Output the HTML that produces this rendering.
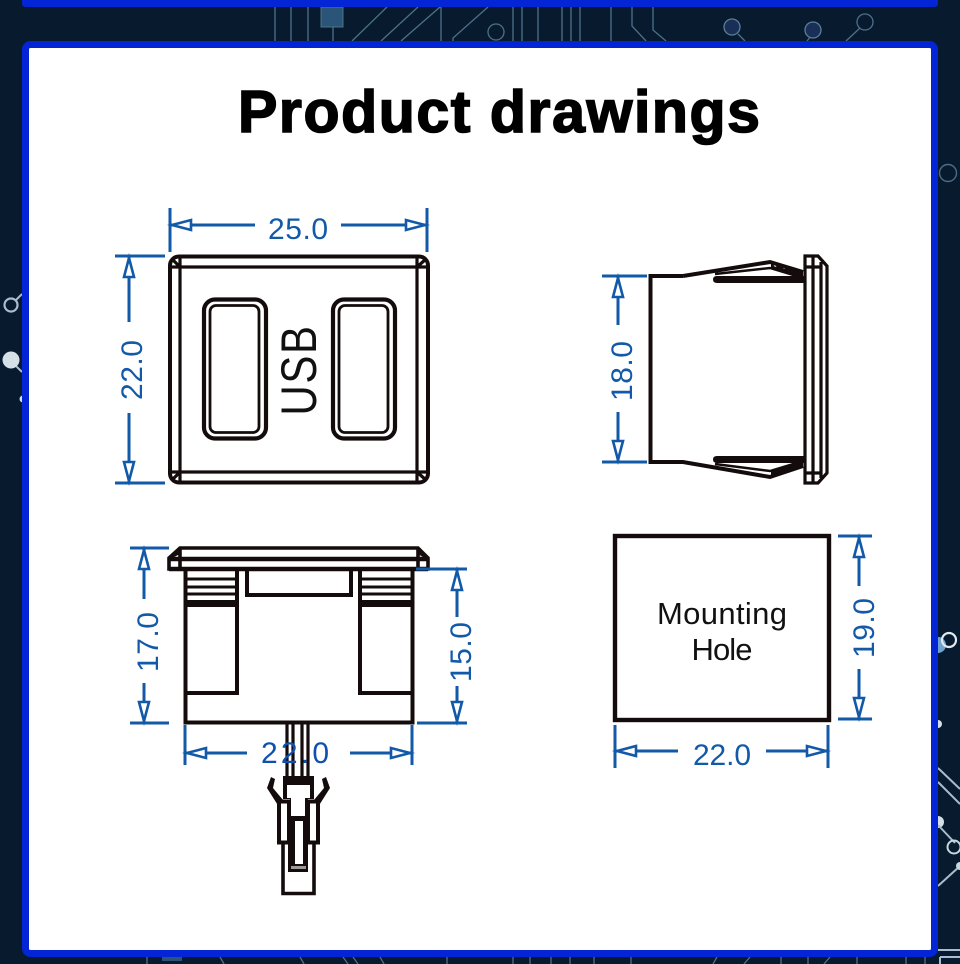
<!DOCTYPE html>
<html><head><meta charset="utf-8"><style>
html,body{margin:0;padding:0;background:#071a2e}
svg{display:block}
.d{font-family:"Liberation Sans",sans-serif;font-size:30px;fill:#1259a8;text-anchor:middle}
.k{fill:none;stroke:#140c0c;stroke-width:3.5}
.b{fill:none;stroke:#1259a8;stroke-width:3}
.a{fill:#fff;stroke:#1259a8;stroke-width:2.6}
.t{fill:none;stroke:#4d7189;stroke-width:1.3}
.l{fill:none;stroke:#a9bdcc;stroke-width:2}
</style></head><body>
<svg width="960" height="964" viewBox="0 0 960 964" xmlns="http://www.w3.org/2000/svg">
<rect width="960" height="964" fill="#071a2e"/>
<!-- background traces top -->
<path class="t" d="M275 7V41M291 7V41M308 7V41M333 27V41M352 41L387 7M381 41L418 7M401 41L440 7M441 7V41M453 41V38L488 7M513 7V41M522 7V41M538 7V41M562 7V41M571 7V41M580 7V41M611 7V41M632 7V26L646 41M653 7V30L666 41M738 34L745 41M807 41L811 36M846 41L860 28"/>
<rect x="321" y="7" width="22" height="20" fill="#2a5578" stroke="#4d7189"/>
<ellipse cx="496" cy="32" rx="8" ry="8" class="t"/>
<circle cx="732" cy="27" r="8" fill="#1a2f58" stroke="#5d7f96" stroke-width="1.3"/>
<circle cx="813" cy="30" r="8" fill="#1a2f58" stroke="#5d7f96" stroke-width="1.3"/>
<circle cx="865" cy="22" r="8" class="t"/>
<!-- left side -->
<circle cx="11" cy="305" r="6.5" fill="none" stroke="#a9bdcc" stroke-width="2.2"/>
<path class="l" d="M16 300L22 294M16 366L22 372"/>
<circle cx="11" cy="360" r="8.5" fill="#d5dfe8"/>
<circle cx="23" cy="399" r="3.5" fill="#d5dfe8"/>
<!-- right side -->
<circle cx="948" cy="173" r="8.5" fill="none" stroke="#4d6d85" stroke-width="1.4"/>
<circle cx="938" cy="645" r="8" fill="#6fa3cf"/>
<circle cx="949" cy="640" r="7" fill="none" stroke="#e2eaf0" stroke-width="2.2"/>
<circle cx="938" cy="724" r="4" fill="#d5dfe8"/>
<circle cx="938" cy="822" r="6" fill="#d5dfe8"/>
<path class="l" d="M938 768L960 789M938 782L960 804M938 825L955 843M938 886L960 866"/>
<circle cx="954" cy="847" r="6.5" fill="none" stroke="#c8d6e0" stroke-width="2"/>
<circle cx="960" cy="866" r="4" fill="#c8d6e0"/>
<path class="l" d="M938 950H960M940 957H960M940 964V957"/>
<!-- bottom traces -->
<path class="t" d="M147 957V964M220 957L224 964M300 957L304 964M343 957L348 964M353 957L358 964M380 957L384 964M447 957V964M513 957V964M530 957V964M551 957V964M570 957V964M594 957V964M631 957V964M713 964L717 957M744 964L750 957M781 957V964M808 957V964M824 964L830 957M857 957V964M906 957V964M925 957V964" stroke="#7f9db3"/>
<rect x="162" y="957" width="20" height="4" fill="#2a5578"/>
<!-- top band -->
<path d="M22 0H938V3Q938 7 934 7H26Q22 7 22 3Z" fill="#0325d6"/>
<!-- card -->
<rect x="25.5" y="44.5" width="909" height="909" rx="5" fill="#fff" stroke="#0325d6" stroke-width="7"/>

<text x="499" y="132" font-family="Liberation Sans,sans-serif" font-weight="700" font-size="59" text-anchor="middle" textLength="522" lengthAdjust="spacing" stroke="#000" stroke-width="1.6">Product drawings</text>

<!-- FRONT VIEW -->
<rect x="170" y="256.500" width="258" height="226" rx="9" class="k" style="stroke-width:4"/>
<path class="k" d="M170 267H427M170 472H427M180 257V482M417 257V482M172 259L180 267M426 259L417 267M172 480L180 472M426 480L417 472" style="stroke-width:3.2"/>
<rect x="204" y="299.500" width="62" height="139" rx="11" class="k" style="stroke-width:4.2"/>
<rect x="210" y="305.500" width="49" height="127" rx="6" class="k" style="stroke-width:2.8"/>
<rect x="333" y="299.500" width="62" height="139" rx="11" class="k" style="stroke-width:4.2"/>
<rect x="339" y="305.500" width="49" height="127" rx="6" class="k" style="stroke-width:2.8"/>
<text transform="translate(316,370) rotate(-90) scale(.84,1)" font-family="Liberation Sans,sans-serif" font-size="50" letter-spacing="2" fill="#111" text-anchor="middle">USB</text>

<path class="b" d="M170 208V252M427 208V252M170 225H255M341 225H427"/>
<path class="a" d="M172 225L191 220V230ZM425 225L406 220V230Z"/>
<text class="d" x="298" y="239" textLength="60" lengthAdjust="spacing">25.0</text>
<path class="b" d="M115 256H165M115 483H165M129 256V322M129 413V483"/>
<path class="a" d="M129 258L124 277H134ZM129 481L124 462H134Z"/>
<text class="d" transform="translate(142,370) rotate(-90)" textLength="60" lengthAdjust="spacing">22.0</text>

<!-- SIDE VIEW -->
<path class="k" d="M683 276H650.500V462H683L770 477L803 466M683 276L770 262L803 272" style="stroke-width:4"/>
<path class="k" d="M715 274L770 268L803 278M715 464L770 471L803 461" style="stroke-width:2.4"/>
<path d="M713 279.500Q713 276 717 276H804V283H717Q713 283 713 279.500ZM713 459.500Q713 456 717 456H804V463H717Q713 463 713 459.500Z" fill="#140c0c"/>
<path d="M771 262L775 267L780 264L784 269L790 266L794 270L803 271V277L771 268ZM771 477L803 467V461L771 471Z" fill="#140c0c"/>
<path class="k" d="M805 256H818L827 266V473L818 483H805ZM813 256V483M821 262V478M805 267H821M805 473H821" style="stroke-width:3.2"/>
<path class="b" d="M602 276H647M602 462H647M618 276V325M618 412V462"/>
<path class="a" d="M618 278L613 297H623ZM618 460L613 441H623Z"/>
<text class="d" transform="translate(632,371) rotate(-90)" textLength="60" lengthAdjust="spacing">18.0</text>

<!-- BOTTOM VIEW -->
<path class="k" d="M180 548H418L428 558V569H169V558ZM180 548V569M418 548V569M172 556L180 552M425 556L418 552" style="stroke-width:3.6"/>
<path class="k" d="M169 559H428" style="stroke-width:4.4"/>
<path class="k" d="M169 569H428" style="stroke-width:4.4"/>
<path class="k" d="M185.500 569V722.500H412.500V569M237 569V693H185M360 569V693H412M247 569V595H351V569" style="stroke-width:4"/>
<path class="k" d="M186 579H237M186 587H237M186 594H237M361 579H412M361 587H412M361 594H412" style="stroke-width:3"/>
<path d="M186 600H237V607H186ZM361 600H412V607H361Z" fill="#140c0c"/>
<!-- wires -->
<path class="k" d="M287 724V777M293 724V777M302 724V777M308 724V777" style="stroke-width:3.2"/>
<!-- connector -->
<path d="M283 776H314V799H308V817H290V799H283ZM287 785V798H291V816H305V798H310V785Z" fill="#140c0c" fill-rule="evenodd"/>
<path d="M271 777L275 779L273 788L283 800L279 807L267 788ZM326 777L322 779L324 788L314 800L318 807L330 788Z" fill="#140c0c"/>
<rect x="279" y="801.500" width="10" height="41" fill="#fff" stroke="#140c0c" stroke-width="4"/>
<rect x="308" y="801.500" width="10" height="41" fill="#fff" stroke="#140c0c" stroke-width="4"/>
<path d="M288 817H308V872H288ZM295 821V864H303V821Z" fill="#140c0c" fill-rule="evenodd"/>
<path class="k" d="M283 844V893.500H314V844" style="stroke-width:3.6"/>
<path d="M291 866H306V869H291Z" fill="#999"/>
<!-- dims -->
<path class="b" d="M130 548H169M130 723H169M144 548V599M144 683V723"/>
<path class="a" d="M144 550L139 569H149ZM144 721L139 702H149Z"/>
<text class="d" transform="translate(158,642) rotate(-90)" textLength="60" lengthAdjust="spacing">17.0</text>
<path class="b" d="M416 569H467M417 723H467M457 569V617M457 686V723"/>
<path class="a" d="M457 571L452 590H462ZM457 721L452 702H462Z"/>
<text class="d" transform="translate(471,652) rotate(-90)" textLength="60" lengthAdjust="spacing">15.0</text>
<path class="b" d="M185 725V765M412 725V765M185 753H247M350 753H412"/>
<path class="a" d="M187 753L206 748V758ZM410 753L391 748V758Z"/>
<text class="d" x="295" y="763" textLength="68" lengthAdjust="spacing" style="fill:#0f4fae">22.0</text>

<!-- MOUNTING HOLE -->
<rect x="615" y="536" width="214" height="184" fill="none" stroke="#140c0c" stroke-width="4.4"/>
<text x="722" y="624" font-family="Liberation Sans,sans-serif" font-size="31" fill="#111" text-anchor="middle" textLength="130" lengthAdjust="spacing">Mounting</text>
<text x="722" y="660" font-family="Liberation Sans,sans-serif" font-size="31" fill="#111" text-anchor="middle" textLength="61" lengthAdjust="spacing">Hole</text>
<path class="b" d="M838 536H872M838 719H872M859 536V586M859 669V719"/>
<path class="a" d="M859 538L854 557H864ZM859 717L854 698H864Z"/>
<text class="d" transform="translate(874,628) rotate(-90)" textLength="60" lengthAdjust="spacing">19.0</text>
<path class="b" d="M615 725V768M828 725V768M615 751H678M766 751H828"/>
<path class="a" d="M617 751L636 746V756ZM826 751L807 746V756Z"/>
<text class="d" x="722" y="765" textLength="58" lengthAdjust="spacing">22.0</text>
</svg>
</body></html>
